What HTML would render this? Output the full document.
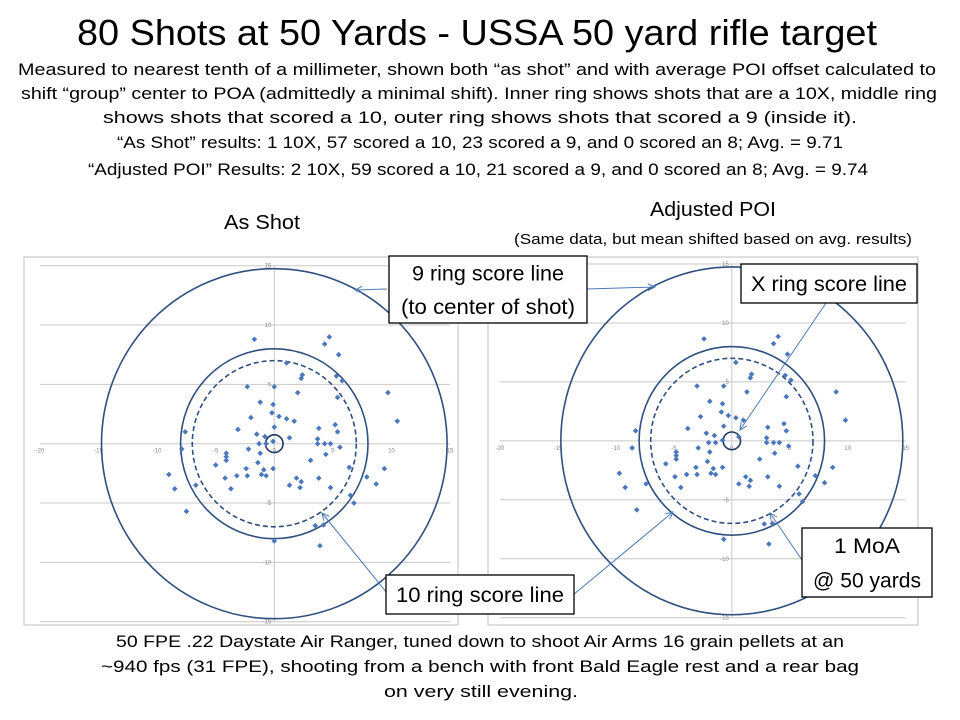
<!DOCTYPE html>
<html><head><meta charset="utf-8"><style>
html,body{margin:0;padding:0;background:#fff;}
svg{display:block;font-family:"Liberation Sans",sans-serif;}
</style></head><body>
<svg id="root" width="960" height="720" viewBox="0 0 960 720" xmlns="http://www.w3.org/2000/svg">
<g fill="#000" text-anchor="middle">
<text x="477" y="45" font-size="36" textLength="800" lengthAdjust="spacingAndGlyphs">80 Shots at 50 Yards - USSA 50 yard rifle target</text>
<text x="477" y="75" font-size="17" textLength="918" lengthAdjust="spacingAndGlyphs">Measured to nearest tenth of a millimeter, shown both “as shot” and with average POI offset calculated to</text>
<text x="479" y="99" font-size="17" textLength="916" lengthAdjust="spacingAndGlyphs">shift “group” center to POA (admittedly a minimal shift).   Inner ring shows shots that are a 10X, middle ring</text>
<text x="480" y="123" font-size="17" textLength="754" lengthAdjust="spacingAndGlyphs">shows shots that scored a 10, outer ring shows shots that scored a 9 (inside it).</text>
<text x="480" y="148" font-size="17" textLength="726" lengthAdjust="spacingAndGlyphs">“As Shot” results: 1 10X, 57 scored a 10, 23 scored a 9, and 0 scored an 8; Avg. = 9.71</text>
<text x="478" y="175" font-size="17" textLength="780" lengthAdjust="spacingAndGlyphs">“Adjusted POI” Results: 2 10X, 59 scored a 10, 21 scored a 9, and 0 scored an 8; Avg. = 9.74</text>
<text x="262" y="229" font-size="20" textLength="76" lengthAdjust="spacingAndGlyphs">As Shot</text>
<text x="713" y="216" font-size="20" textLength="126" lengthAdjust="spacingAndGlyphs">Adjusted POI</text>
<text x="713" y="244" font-size="15" textLength="398" lengthAdjust="spacingAndGlyphs">(Same data, but mean shifted based on avg. results)</text>
</g>
<g id="charts"></g>
<g fill="#000" text-anchor="middle" font-size="17">
<text x="480" y="647" textLength="728" lengthAdjust="spacingAndGlyphs">50 FPE .22 Daystate Air Ranger, tuned down to shoot Air Arms 16 grain pellets at an</text>
<text x="480" y="672" textLength="758" lengthAdjust="spacingAndGlyphs">~940 fps (31 FPE), shooting from a bench with front Bald Eagle rest and a rear bag</text>
<text x="481" y="697" textLength="194" lengthAdjust="spacingAndGlyphs">on very still evening.</text>
</g>
<g id="callouts"></g>
</svg>
<script>
const shotX=[-1.7,4.7,4.3,5.5,1.05,2.4,2.3,5.3,5.8,-2.3,0,2.0,9.7,5.4,-1.2,-0.1,-0.2,0.4,-2.0,1.05,1.7,10.5,5.2,3.8,0,-3.1,-7.6,5.4,-1.5,-0.8,1.3,3.7,-0.1,-1.3,-0.7,3.7,4.3,4.8,5.6,-7.9,-2.2,-1.2,-4.1,4.4,-4.1,-4.1,3.1,-5.0,-1.4,6.4,-0.1,-2.4,-0.9,9.4,-9.0,-3.2,-2.3,-1.1,-0.7,7.9,1.9,-4.2,3.8,2.3,8.7,-6.7,1.3,-8.5,-3.7,2.2,4.8,6.5,-7.5,6.8,3.5,4.2,0.0,3.9];
const shotY=[8.8,9.0,8.4,7.5,6.8,5.8,5.5,5.7,5.3,4.8,4.8,4.3,4.3,3.9,3.5,3.3,2.6,2.3,2.2,2.1,1.9,1.9,1.6,1.3,1.4,1.2,1.0,1.0,0.8,0.6,0.5,0.4,0.2,0.0,0.0,0.0,0.0,0.0,-0.3,-0.45,-0.45,-0.8,-0.8,-0.9,-1.1,-1.4,-1.4,-1.8,-1.6,-2.0,-2.1,-2.1,-2.2,-2.1,-2.6,-2.7,-2.7,-2.6,-2.7,-2.8,-2.9,-2.9,-2.9,-3.2,-3.4,-3.5,-3.5,-3.8,-3.8,-3.7,-3.7,-4.35,-5.7,-5.0,-6.9,-6.85,-8.2,-8.6];
const poiOffset=[-0.7,-0.15];
const ringRadii=[14.75,8.0,7.0,0.75];
const xTicks=[-20,-15,-10,-5,0,5,10,15];
const yTicks=[15,10,5,0,-5,-10,-15];
const NS='http://www.w3.org/2000/svg';
function mk(tag,attrs,parent){const e=document.createElementNS(NS,tag);for(const k in attrs)e.setAttribute(k,attrs[k]);parent.appendChild(e);return e;}
const charts=document.getElementById('charts');
const panels=[
 {name:'as-shot',frame:[24,257,434,368],x0:40,x1:450,y0:265.7,y1:621.7,dx:0,dy:0},
 {name:'adjusted',frame:[488,257,430,368],x0:500,x1:905.7,y0:264,y1:617.7,dx:poiOffset[0],dy:poiOffset[1]}
];
panels.forEach(p=>{
 const g=mk('g',{},charts);
 
 
 const sx=v=>p.x0+(v+20)/35*(p.x1-p.x0);
 const sy=v=>p.y0+(15-v)/30*(p.y1-p.y0);
 const fr=mk('rect',{x:p.frame[0],y:p.frame[1],width:p.frame[2],height:p.frame[3],fill:'#fff',stroke:'#bfbfbf','stroke-width':1},g);
 
 
 yTicks.forEach(t=>{
  const l=mk('line',{x1:sx(-20),x2:sx(15),y1:sy(t),y2:sy(t),stroke:'#c8c8c8','stroke-width':1},g);
  
  
  if(t!==0){const tx=mk('text',{x:sx(0)-3,y:sy(t)+2,'font-size':6,fill:'#888','text-anchor':'end'},g);tx.textContent=t;
  
  }
 });
 const va=mk('line',{x1:sx(0),x2:sx(0),y1:sy(15),y2:sy(-15),stroke:'#c8c8c8','stroke-width':1},g);
 
 
 xTicks.forEach(t=>{
  const tx=mk('text',{x:sx(t),y:sy(0)+9,'font-size':6,fill:'#888','text-anchor':'middle'},g);tx.textContent=t;
  
  
 });
 const rnames=['9-ring','10-ring','1-moa-ring','x-ring'];
 ringRadii.forEach((r,i)=>{
  const c=mk('ellipse',{cx:sx(0),cy:sy(0),rx:sx(r)-sx(0),ry:sy(0)-sy(r),fill:'none',stroke:i===3?'#1f3864':'#2f4f7f','stroke-width':1.6},g);
  if(i===2)c.setAttribute('stroke-dasharray','5,3');
  
  
 });
 shotX.forEach((x,i)=>{
  const cx=sx(x+p.dx),cy=sy(shotY[i]+p.dy),s=2.8;
  const d=mk('polygon',{points:`${cx},${cy-s} ${cx+s},${cy} ${cx},${cy+s} ${cx-s},${cy}`,fill:'#4a78bd'},g);
  
  
 });
});
const co=document.getElementById('callouts');
function arrow(x1,y1,x2,y2){
 const l=mk('line',{x1,y1,x2,y2,stroke:'#4a7ab5','stroke-width':1},co);
 
 
 const a=Math.atan2(y2-y1,x2-x1),L=8;
 const p=mk('polyline',{points:`${x2-L*Math.cos(a-0.45)},${y2-L*Math.sin(a-0.45)} ${x2},${y2} ${x2-L*Math.cos(a+0.45)},${y2-L*Math.sin(a+0.45)}`,fill:'none',stroke:'#4a7ab5','stroke-width':1},co);
 
 
}
arrow(387,289,355,290);arrow(587,289,655,287);arrow(826,303,740,430);
arrow(387,593,322,513);arrow(573,595,673,512);arrow(802,560,770,513);
function box(name,x,y,w,h,lines,fs){
 const g=mk('g',{},co);
 
 
 mk('rect',{x,y,width:w,height:h,fill:'#fff',stroke:'#000','stroke-width':1.3},g);
 lines.forEach((t,i)=>{const tx=mk('text',{x:x+w/2,y:y+(h/lines.length)*(i+0.5)+fs*0.36,'font-size':fs,'text-anchor':'middle',fill:'#000',textLength:t[1],lengthAdjust:'spacingAndGlyphs'},g);tx.textContent=t[0];});
}
box('9-ring-callout',389,256,198,67,[['9 ring score line',152],['(to center of shot)',174]],21);
box('x-ring-callout',741,264,176,39,[['X ring score line',156]],21);
box('10-ring-callout',386,575,188,39,[['10 ring score line',168]],21);
box('1-moa-callout',802,528,130,69,[['1 MoA',66],['@ 50 yards',108]],21);
</script>
</body></html>
